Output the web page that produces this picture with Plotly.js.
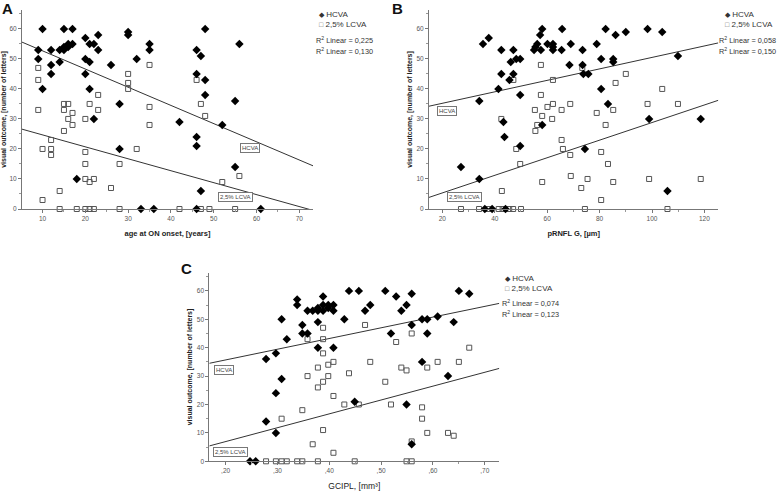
<!DOCTYPE html>
<html>
<head>
<meta charset="utf-8">
<script src="https://cdn.plot.ly/plotly-3.0.1.min.js"></script>
<style>
html, body { margin: 0; padding: 0; background: #fff; }
#chart { width: 778px; height: 491px; }
</style>
</head>
<body>
<div id="chart"></div>
<script>
// ---- data ----
// A: age at ON onset
const ageHcvaX = [9, 9, 10, 10, 12, 12, 12, 14, 14, 15, 15, 15, 16, 16, 17, 17, 18, 20, 20, 20, 21, 21, 21, 22, 22, 23, 23, 26, 28, 28, 30, 30, 32, 33, 35, 35, 36, 42, 46, 46, 46, 46, 46, 47, 47, 48, 48, 48, 52, 55, 55, 56, 61];
const ageHcvaY = [53, 50, 60, 40, 53, 48, 45, 49, 53, 60, 53, 54, 55, 54, 60, 55, 10, 57, 50, 45, 55, 49, 40, 55, 30, 58, 53, 48, 35, 20, 59, 58, 50, 0, 55, 53, 0, 29, 53, 45, 24, 21, 0, 51, 6, 60, 43, 38, 28, 36, 14, 55, 0];
const ageLcvaX = [9, 9, 9, 10, 10, 12, 12, 12, 14, 14, 15, 15, 15, 16, 16, 17, 17, 18, 20, 20, 20, 20, 20, 21, 21, 21, 22, 22, 23, 23, 26, 28, 28, 30, 30, 30, 32, 35, 35, 35, 42, 46, 47, 47, 48, 49, 52, 55, 56];
const ageLcvaY = [47, 43, 33, 20, 3, 23, 20, 18, 6, 0, 35, 33, 26, 35, 30, 32, 28, 0, 30, 19, 15, 10, 0, 35, 9, 0, 10, 0, 38, 33, 7, 15, 0, 45, 42, 40, 20, 48, 34, 28, 0, 43, 35, 0, 31, 0, 9, 0, 11];

// B: pRNFL G
const rnflHcvaX = [27.1, 34.1, 34.1, 35.5, 37.7, 36.2, 39, 41.4, 42.5, 42.5, 43.3, 43.7, 44.1, 45.6, 46.1, 47.1, 47.1, 48.2, 49.7, 49.7, 49.7, 55, 55.5, 56.2, 57.3, 57.6, 58.1, 58.1, 60.1, 62.2, 62.2, 62.2, 65.7, 65.5, 69, 68.5, 73.5, 73.5, 73.8, 74.4, 75.7, 78.9, 80.6, 82.3, 80.6, 83.2, 85.2, 85.2, 86.1, 90, 98.3, 98.9, 103.9, 109.9, 105.9, 118.6];
const rnflHcvaY = [14, 36, 10, 55, 57, 0, 0, 40, 53, 45, 29, 24, 0, 43, 49, 45, 53, 50, 50, 38, 21, 53, 54, 55, 58, 53, 60, 28, 55, 55, 54, 53, 60, 53, 55, 48, 53, 48, 45, 20, 45, 55, 50, 60, 40, 35, 50, 49, 58, 59, 60, 30, 59, 51, 6, 30];
const rnflLcvaX = [27.1, 34, 37.5, 41.5, 43, 45.5, 47, 50, 42.5, 42.7, 47.1, 48.2, 49.7, 55.3, 55.5, 56.2, 57.6, 57.6, 58.1, 58.1, 60.1, 62.2, 61.9, 62.2, 65.5, 65.5, 66, 68.8, 68.8, 69, 73, 73.4, 74.4, 75.4, 78.9, 80.6, 80.6, 82.3, 83.2, 85.2, 85.2, 86.1, 90, 98.3, 98.9, 103.9, 105.9, 109.9, 118.6];
const rnflLcvaY = [0, 0, 0, 0, 0, 0, 0, 0, 30, 6, 43, 20, 15, 33, 26, 28, 48, 38, 31, 9, 34, 35, 30, 43, 33, 23, 20, 35, 18, 11, 7, 47, 0, 10, 32, 19, 3, 28, 15, 33, 9, 42, 45, 35, 10, 40, 0, 35, 10];

// C: GCIPL
const gciplHcvaX = [0.247, 0.258, 0.278, 0.278, 0.297, 0.297, 0.297, 0.308, 0.308, 0.318, 0.338, 0.338, 0.348, 0.348, 0.358, 0.358, 0.368, 0.378, 0.378, 0.378, 0.378, 0.388, 0.388, 0.388, 0.398, 0.398, 0.408, 0.408, 0.408, 0.429, 0.438, 0.449, 0.457, 0.469, 0.479, 0.508, 0.519, 0.529, 0.539, 0.549, 0.559, 0.559, 0.549, 0.559, 0.579, 0.589, 0.589, 0.579, 0.609, 0.629, 0.640, 0.650, 0.670];
const gciplHcvaY = [0, 0, 36, 14, 38, 24, 10, 50, 29, 43, 57, 55, 48, 45, 45, 53, 53, 53, 54, 49, 40, 58, 55, 53, 55, 54, 55, 53, 40, 50, 60, 21, 60, 53, 55, 60, 45, 58, 53, 55, 59, 48, 20, 6, 50, 50, 45, 35, 51, 30, 49, 60, 59];
const gciplLcvaX = [0.278, 0.297, 0.308, 0.318, 0.338, 0.348, 0.378, 0.308, 0.348, 0.358, 0.358, 0.368, 0.378, 0.378, 0.388, 0.388, 0.388, 0.388, 0.388, 0.398, 0.398, 0.408, 0.408, 0.408, 0.429, 0.438, 0.449, 0.457, 0.469, 0.479, 0.508, 0.519, 0.529, 0.539, 0.549, 0.559, 0.579, 0.579, 0.589, 0.589, 0.559, 0.549, 0.559, 0.609, 0.629, 0.640, 0.650, 0.670];
const gciplLcvaY = [0, 0, 0, 0, 0, 0, 0, 15, 18, 43, 30, 6, 33, 26, 47, 43, 38, 28, 11, 34, 30, 35, 23, 3, 20, 31, 0, 20, 48, 35, 28, 20, 42, 33, 32, 45, 19, 15, 33, 10, 7, 0, 0, 35, 10, 9, 35, 40];

// linear fits: [intercept, slope]
const fitAgeHcva = [58.75, -0.606];
const fitAgeLcva = [28.67, -0.398];
const fitRnflHcva = [31.4, 0.191];
const fitRnflLcva = [-0.5, 0.293];
const fitGciplHcva = [28.15, 37.7];
const fitGciplLcva = [-2.82, 48.8];

const r2Age = ['0,225', '0,130'];
const r2Rnfl = ['0,058', '0,150'];
const r2Gcipl = ['0,074', '0,123'];

// ticks
const yTicks = [0, 10, 20, 30, 40, 50, 60];
const ageTicks = [10, 20, 30, 40, 50, 60, 70];
const rnflTicks = [20, 40, 60, 80, 100, 120];
const gciplTicks = [0.2, 0.3, 0.4, 0.5, 0.6, 0.7];
const gciplTickText = [',20', ',30', ',40', ',50', ',60', ',70'];

// ---- layout helpers ----
const W = 778, H = 491;
const FONT = 'Liberation Sans, Arial, sans-serif';
const px = v => v / W;
const py = v => 1 - v / H;

const rangeA = [5.2, 73.2], rangeB = [14.9, 125.3], rangeC = [0.1685, 0.728];
const yRangeAB = [0, 66.3], yRangeC = [0, 66.4];

function scatter(x, y, ax, hc) {
  return {
    x: x, y: y, xaxis: 'x' + ax, yaxis: 'y' + ax,
    type: 'scatter', mode: 'markers', cliponaxis: false, showlegend: false,
    hoverinfo: 'x+y',
    marker: hc
      ? { symbol: 'diamond', size: 6.5, color: '#000' }
      : { symbol: 'square-open', size: 5, color: '#555', line: { width: 1 } }
  };
}

function fitLine(coef, range, ax) {
  return {
    x: range, y: range.map(v => coef[0] + coef[1] * v),
    xaxis: 'x' + ax, yaxis: 'y' + ax,
    type: 'scatter', mode: 'lines', showlegend: false, hoverinfo: 'skip',
    line: { color: '#333', width: 1 }
  };
}

function xAxis(dom, range, anchor, title, bold, extra) {
  return Object.assign({
    domain: dom, range: range, anchor: anchor,
    showgrid: false, zeroline: false, showline: true, linecolor: '#777', linewidth: 1,
    ticks: 'outside', ticklen: 3, tickcolor: '#777',
    tickfont: { family: FONT, size: 6.5, color: '#555' },
    minor: { ticks: 'outside', ticklen: 2, tickcolor: '#999' },
    title: {
      text: title, standoff: 9,
      font: { family: FONT, size: bold ? 7.5 : 8.5, color: '#222', weight: bold ? 'bold' : 'normal' }
    }
  }, extra);
}

function yAxis(dom, range, anchor) {
  return {
    domain: dom, range: range, anchor: anchor,
    showgrid: false, zeroline: false, showline: true, linecolor: '#777', linewidth: 1,
    ticks: 'outside', ticklen: 3, tickcolor: '#777',
    tickmode: 'array', tickvals: yTicks,
    tickfont: { family: FONT, size: 6.5, color: '#555' },
    minor: { ticks: 'outside', ticklen: 2, tickcolor: '#999', tickmode: 'linear', tick0: 0, dtick: 5 },
    title: {
      text: 'visual outcome, [number of letters]', standoff: 3,
      font: { family: FONT, size: 7, color: '#222', weight: 'bold' }
    }
  };
}

const data = [
  fitLine(fitAgeHcva, rangeA, ''), fitLine(fitAgeLcva, rangeA, ''),
  scatter(ageLcvaX, ageLcvaY, '', false), scatter(ageHcvaX, ageHcvaY, '', true),
  fitLine(fitRnflHcva, rangeB, '2'), fitLine(fitRnflLcva, rangeB, '2'),
  scatter(rnflLcvaX, rnflLcvaY, '2', false), scatter(rnflHcvaX, rnflHcvaY, '2', true),
  fitLine(fitGciplHcva, rangeC, '3'), fitLine(fitGciplLcva, rangeC, '3'),
  scatter(gciplLcvaX, gciplLcvaY, '3', false), scatter(gciplHcvaX, gciplHcvaY, '3', true)
];

const domYAB = [py(209), py(10)];
const domYC = [py(461.3), py(272.7)];

// legend + R² blocks, panel letters, line labels
const annotations = [];
function legendBlock(symX, y1, r2x, r2y, r2) {
  const f = { family: FONT, size: 8, color: '#333' };
  const fr = { family: FONT, size: 7.3, color: '#333' };
  annotations.push(
    { xref: 'paper', yref: 'paper', x: px(symX - 4), y: py(y1), xanchor: 'left', yanchor: 'middle', showarrow: false, text: '<span style="font-size:7px">◆</span> HCVA', font: f },
    { xref: 'paper', yref: 'paper', x: px(symX - 4), y: py(y1 + 10), xanchor: 'left', yanchor: 'middle', showarrow: false, text: '<span style="font-size:7px;color:#666">□</span> 2,5% LCVA', font: f },
    { xref: 'paper', yref: 'paper', x: px(r2x), y: py(r2y), xanchor: 'left', yanchor: 'middle', showarrow: false, text: 'R<sup>2</sup> Linear = ' + r2[0], font: fr },
    { xref: 'paper', yref: 'paper', x: px(r2x), y: py(r2y + 11), xanchor: 'left', yanchor: 'middle', showarrow: false, text: 'R<sup>2</sup> Linear = ' + r2[1], font: fr }
  );
}
legendBlock(321, 14, 314, 40, r2Age);
legendBlock(727, 14, 717, 40, r2Rnfl);
legendBlock(507, 278, 500, 303, r2Gcipl);

[['A', 7, 8], ['B', 397, 8.5], ['C', 186, 268]].forEach(l => annotations.push({
  xref: 'paper', yref: 'paper', x: px(l[1]), y: py(l[2]), xanchor: 'center', yanchor: 'middle',
  showarrow: false, text: '<b>' + l[0] + '</b>', font: { family: FONT, size: 15, color: '#111' }
}));

function lineLabel(ax, x, y, text) {
  annotations.push({
    xref: 'x' + ax, yref: 'y' + ax, x: x, y: y, showarrow: false, text: text,
    font: { family: FONT, size: 6, color: '#444' },
    bgcolor: '#fff', bordercolor: '#777', borderwidth: 1, borderpad: 1
  });
}
lineLabel('', 58.4, 20.3, 'HCVA');
lineLabel('', 55, 4, '2,5% LCVA');
lineLabel('2', 21.8, 32.7, 'HCVA');
lineLabel('2', 28.4, 4, '2,5% LCVA');
lineLabel('3', 0.197, 32, 'HCVA');
lineLabel('3', 0.21, 3.4, '2,5% LCVA');

const layout = {
  width: W, height: H,
  margin: { l: 0, r: 0, t: 0, b: 0 },
  paper_bgcolor: '#fff', plot_bgcolor: '#fff',
  font: { family: FONT, color: '#333' },
  showlegend: false,
  xaxis: xAxis([px(22), px(313)], rangeA, 'y', 'age at ON onset, [years]', true,
    { tickmode: 'array', tickvals: ageTicks }),
  yaxis: yAxis(domYAB, yRangeAB, 'x'),
  xaxis2: xAxis([px(429), px(718.3)], rangeB, 'y2', 'pRNFL G, [µm]', true,
    { tickmode: 'array', tickvals: rnflTicks }),
  yaxis2: yAxis(domYAB, yRangeAB, 'x2'),
  xaxis3: xAxis([px(209.3), px(499.3)], rangeC, 'y3', 'GCIPL, [mm³]', false,
    { tickmode: 'array', tickvals: gciplTicks, ticktext: gciplTickText }),
  yaxis3: yAxis(domYC, yRangeC, 'x3'),
  annotations: annotations
};

// minor ticks on x between labelled ticks
layout.xaxis.minor.tickmode = 'linear'; layout.xaxis.minor.tick0 = 0; layout.xaxis.minor.dtick = 5;
layout.xaxis2.minor.tickmode = 'linear'; layout.xaxis2.minor.tick0 = 0; layout.xaxis2.minor.dtick = 10;
layout.xaxis3.minor.tickmode = 'linear'; layout.xaxis3.minor.tick0 = 0; layout.xaxis3.minor.dtick = 0.05;

Plotly.newPlot('chart', data, layout, { staticPlot: true });
</script>
</body>
</html>
